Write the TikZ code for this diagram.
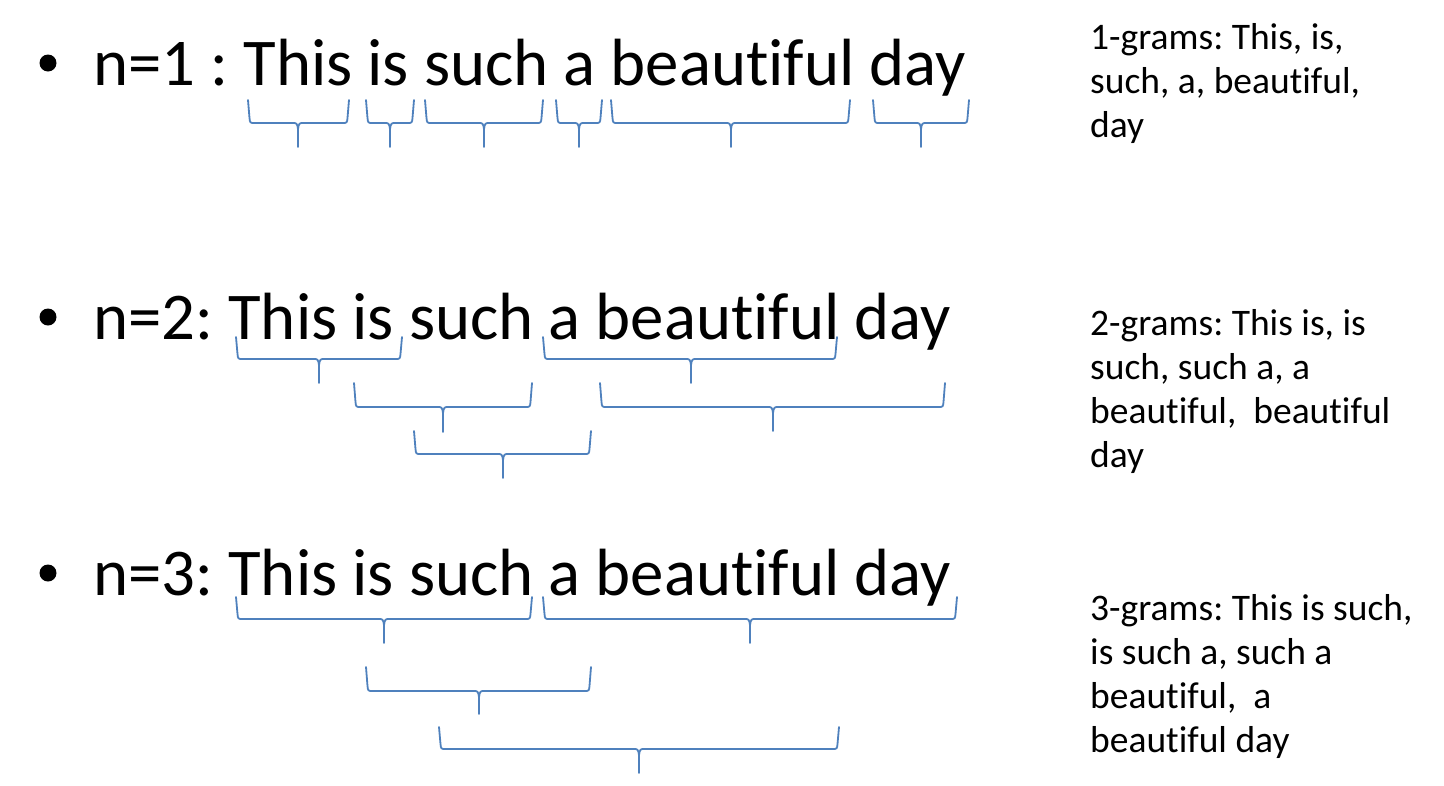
\documentclass[tikz,border=0pt]{standalone}
\usepackage{fontspec}
\setmainfont[Ligatures=NoCommon]{Carlito}
\frenchspacing
\definecolor{bracecol}{RGB}{79,129,189}
\newcommand\gbrace[6]{%
  \draw[gbrace] (#1,#4) -- (#1+1.5,#5-5) .. controls (#1+2,#5) .. (#1+7,#5)
    -- (#3-6,#5) .. controls (#3-1,#5) .. (#3,#5+6) -- (#3,#6);
  \draw[gbrace] (#2,#4) -- (#2-1.5,#5-5) .. controls (#2-2,#5) .. (#2-7,#5)
    -- (#3+6,#5) .. controls (#3+1,#5) .. (#3,#5+6);
}
\begin{document}
\begin{tikzpicture}[x=1pt,y=-1pt,
  gbrace/.style={draw=bracecol,line width=1.8pt,line join=round,line cap=round},
  mainline/.style={inner sep=0pt,anchor=base west,font=\fontsize{66.8}{80}\selectfont},
  sidetext/.style={inner sep=0pt,anchor=base west,align=left,font=\fontsize{37.5}{44}\selectfont},
  dot/.style={circle,fill=black,inner sep=0pt,minimum size=17pt}]
\useasboundingbox (0,0) rectangle (1444,785);
% row 1
\node[dot] (b1) at (48,63) {};
\node[mainline] (r1) at (93,85) {n=1 : This is such a beautiful day};
\gbrace{248}{349}{298}{100}{123}{147}
\gbrace{366}{414}{390}{100}{123}{147}
\gbrace{425}{543}{484}{100}{123}{147}
\gbrace{556}{602}{579}{100}{123}{147}
\gbrace{611}{850}{731}{100}{123}{147}
\gbrace{873}{969}{921}{100}{123}{147}
% last-line baseline used as anchor
\node[sidetext] (g1) at (1090,137) {1-grams: This, is,\\such, a, beautiful,\\day};
% row 2
\node[dot] (b2) at (48,317) {};
\node[mainline] (r2) at (93,339) {n=2: This is such a beautiful day};
\gbrace{236}{402}{319}{337}{359}{383}
\gbrace{354}{532}{443}{383}{407}{432}
\gbrace{414}{591}{503}{431}{454}{478}
\gbrace{543}{837}{691}{337}{359}{383}
\gbrace{600}{945}{773}{383}{407}{431}
\node[sidetext] (g2) at (1090,467) {2-grams: This is, is\\such, such a, a\\beautiful,\ \ beautiful\\day};
% row 3
\node[dot] (b3) at (48,573) {};
\node[mainline] (r3) at (93,595) {n=3: This is such a beautiful day};
\gbrace{236}{532}{384}{597}{619}{643}
\gbrace{543}{957}{750}{597}{619}{643}
\gbrace{366}{591}{479}{667}{691}{714}
\gbrace{439}{839}{639}{727}{749}{773}
\node[sidetext] (g3) at (1090,752) {3-grams: This is such,\\is such a, such a\\beautiful,\ \ a\\beautiful day};
\end{tikzpicture}
\end{document}
